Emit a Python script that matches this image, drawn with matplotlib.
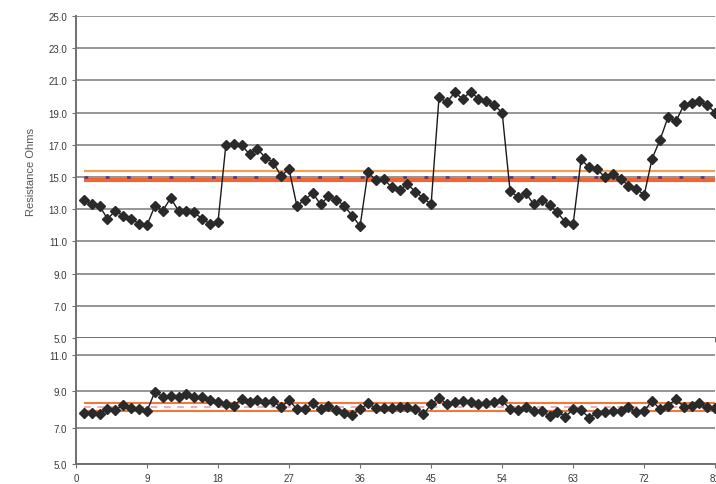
import numpy as np
import matplotlib
matplotlib.use('Agg')
import matplotlib.pyplot as plt

plt.rcParams['font.family'] = ['Liberation Sans', 'DejaVu Sans']

# individual resistance readings (top) and moving range style values (bottom)
top_vals = [13.6, 13.3, 13.2, 12.4, 12.9, 12.6, 12.4, 12.1, 12.0, 13.2,
            12.9, 13.7, 12.9, 12.9, 12.8, 12.4, 12.1, 12.2, 17.0, 17.05,
            17.0, 16.4, 16.75, 16.2, 15.9, 15.05, 15.5, 13.2, 13.6, 14.0,
            13.3, 13.8, 13.6, 13.2, 12.6, 11.95, 15.3, 14.8, 14.9, 14.35,
            14.2, 14.55, 14.1, 13.7, 13.3, 19.95, 19.65, 20.25, 19.85, 20.3,
            19.85, 19.75, 19.45, 19.0, 14.15, 13.75, 14.0, 13.3, 13.6, 13.25,
            12.8, 12.2, 12.1, 16.1, 15.6, 15.5, 15.0, 15.2, 14.9, 14.45,
            14.25, 13.9, 16.15, 17.3, 18.7, 18.45, 19.45, 19.6, 19.7, 19.45,
            19.0]
bot_vals = [7.8, 7.8, 7.75, 8.0, 7.95, 8.25, 8.05, 8.0, 7.9, 8.95,
            8.7, 8.75, 8.65, 8.85, 8.7, 8.65, 8.5, 8.4, 8.3, 8.2,
            8.58, 8.4, 8.52, 8.4, 8.45, 8.1, 8.52, 8.0, 8.0, 8.33,
            8.0, 8.2, 7.95, 7.8, 7.7, 8.0, 8.33, 8.05, 8.05, 8.06,
            8.1, 8.1, 8.0, 7.72, 8.27, 8.62, 8.3, 8.4, 8.45, 8.4,
            8.3, 8.35, 8.4, 8.5, 8.0, 7.95, 8.15, 7.9, 7.9, 7.65,
            7.87, 7.6, 8.0, 7.95, 7.55, 7.78, 7.87, 7.9, 7.9, 8.1,
            7.87, 7.9, 8.48, 8.0, 8.2, 8.55, 8.15, 8.2, 8.33, 8.1,
            8.06]
top_limits = [15.4, 15.0, 14.8]   # upper, centre, lower
bot_limits = [8.33, 8.12, 7.91]
x = np.arange(1, len(top_vals) + 1)
xticks = list(range(0, 82, 9))

fig = plt.figure(figsize=(7.16, 4.85), dpi=100)
gs = fig.add_gridspec(2, 1, height_ratios=[322, 126], hspace=0,
                      left=0.106, right=0.999, top=0.965, bottom=0.041)
ax1 = fig.add_subplot(gs[0])
ax2 = fig.add_subplot(gs[1])

grid_c = '#8c8c8c'
text_c = '#3a3a3a'

for ax in (ax1, ax2):
    ax.set_xlim(0, 81)
    ax.set_xticks(xticks)
    ax.yaxis.grid(True, color=grid_c, lw=1.3)
    ax.set_axisbelow(True)
    for s in ('top', 'right'):
        ax.spines[s].set_visible(False)
    for s in ('left', 'bottom'):
        ax.spines[s].set_color('#707070')
        ax.spines[s].set_linewidth(1.4)
    ax.tick_params(colors='#707070', labelcolor=text_c, labelsize=7, length=3)

# top panel
ax1.set_ylim(5, 25)
ax1.set_yticks(range(5, 26, 2))
ax1.set_yticklabels([f'{v:.1f}' for v in range(5, 26, 2)])
ax1.set_xticklabels([])
ax1.hlines(top_limits[0], 1, 81, color='#f0a050', lw=1.6, zorder=2)
ax1.hlines(top_limits[2], 1, 81, color='#f26434', lw=3, zorder=2)
ax1.hlines(top_limits[1], 1, 81, color='#4a3c80', lw=1.8, linestyles=(0, (1.5, 7)), zorder=2)
ax1.plot(x, top_vals, color='#1a1a1a', lw=1, marker='D', ms=5,
         mfc='#2a2a2a', mec='#2a2a2a', zorder=3)
ax1.set_ylabel('Resistance Ohms', fontsize=8, color='#555555')
ax1.yaxis.set_label_coords(-0.062, 0.52)

# bottom panel
ax2.set_ylim(5, 11.9)
ax2.set_yticks([5, 7, 9, 11])
ax2.set_yticklabels(['5.0', '7.0', '9.0', '11.0'])
ax2.set_xticklabels([str(t) for t in xticks])
ax2.hlines(bot_limits[0], 1, 81, color='#f07838', lw=1.5, zorder=2)
ax2.hlines(bot_limits[2], 1, 81, color='#f07838', lw=1.5, zorder=2)
ax2.hlines(bot_limits[1], 1, 81, color='#e8a0b0', lw=1.2, linestyles=(0, (4, 4)), zorder=2)
ax2.plot(x, bot_vals, color='#1a1a1a', lw=1, marker='D', ms=5,
         mfc='#2a2a2a', mec='#2a2a2a', zorder=3)

fig.savefig('out.png', dpi=100)
